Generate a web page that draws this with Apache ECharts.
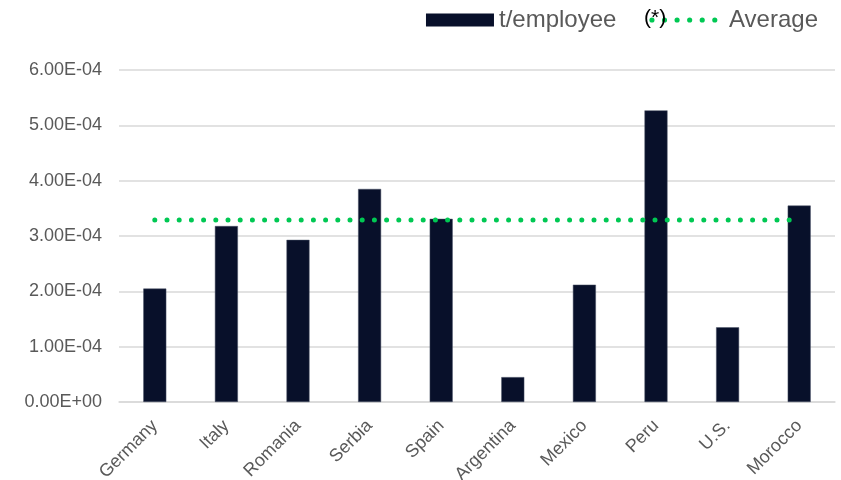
<!DOCTYPE html>
<html>
<head>
<meta charset="utf-8">
<script src="https://cdn.jsdelivr.net/npm/echarts@6/dist/echarts.min.js"></script>
<style>html,body{margin:0;padding:0;background:#fff}#c{width:841px;height:480px}</style>
</head>
<body>
<div id="c"></div>
<script>
const categories = ['Germany','Italy','Romania','Serbia','Spain','Argentina','Mexico','Peru','U.S.','Morocco'];
const tPerEmployee = [2.05e-4, 3.18e-4, 2.93e-4, 3.85e-4, 3.31e-4, 0.45e-4, 2.12e-4, 5.27e-4, 1.35e-4, 3.55e-4];
const averageValue = 3.29e-4;
const averageSeries = categories.map(() => averageValue);
const yTicks = { min: 0, max: 6e-4, interval: 1e-4 };

function fmt(v) {
  if (v === 0) return '0.00E+00';
  const s = v.toExponential(2).toUpperCase();
  const m = s.split('E');
  const sign = m[1][0];
  let d = m[1].slice(1);
  if (d.length < 2) d = '0' + d;
  return m[0] + 'E' + sign + d;
}

// legend icon: row of dots
let dots = '';
for (let i = 0; i < 6; i++) {
  const cx = 2.5 + 12.2 * i;
  dots += 'M' + (cx - 2.5) + ',2.5 a2.5,2.5 0 1,0 5,0 a2.5,2.5 0 1,0 -5,0 Z ';
}

const chart = echarts.init(document.getElementById('c'));
chart.setOption({
  animation: false,
  grid: { left: 119, right: 6, top: 70, bottom: 78, containLabel: false, outerBoundsMode: 'none' },
  legend: {
    right: 18, top: 3,
    itemWidth: 68, itemHeight: 13, itemGap: 33,
    textStyle: { fontFamily: 'Liberation Sans, Arial', fontSize: 24, color: '#595959' },
    formatter: name => name === 'Average' ? ' ' + name : name,
    data: [
      { name: 't/employee', icon: 'rect', itemStyle: { borderWidth: 0 } },
      { name: 'Average', icon: 'path://' + dots, itemStyle: { color: '#00c853', borderWidth: 0 } }
    ]
  },
  graphic: [{
    type: 'text', left: 644, top: 8,
    style: { text: '(*)', font: '21px Liberation Sans, Arial', fill: '#000' },
    z: 100
  }],
  xAxis: {
    type: 'category', data: categories,
    axisLine: { show: true, lineStyle: { color: '#d9d9d9', width: 1.5 } },
    axisTick: { show: false },
    axisLabel: { interval: 0, rotate: 45, margin: 21, fontFamily: 'Liberation Sans, Arial', fontSize: 18, color: '#595959' }
  },
  yAxis: {
    type: 'value', min: yTicks.min, max: yTicks.max, interval: yTicks.interval,
    axisLine: { show: false }, axisTick: { show: false },
    splitLine: { lineStyle: { color: '#d9d9d9', width: 1.5 } },
    axisLabel: { formatter: fmt, margin: 17, fontFamily: 'Liberation Sans, Arial', fontSize: 18, color: '#595959' }
  },
  series: [
    {
      name: 't/employee', type: 'bar', data: tPerEmployee, barWidth: 23,
      itemStyle: { color: '#08102a', borderColor: '#4a5266', borderWidth: 0.5 }
    },
    {
      name: 'Average', type: 'line', data: averageSeries, symbol: 'none',
      lineStyle: { color: '#00c853', width: 5, type: [0, 12.2], cap: 'round' },
      itemStyle: { color: '#00c853' },
      z: 5
    }
  ]
});
</script>
</body>
</html>
